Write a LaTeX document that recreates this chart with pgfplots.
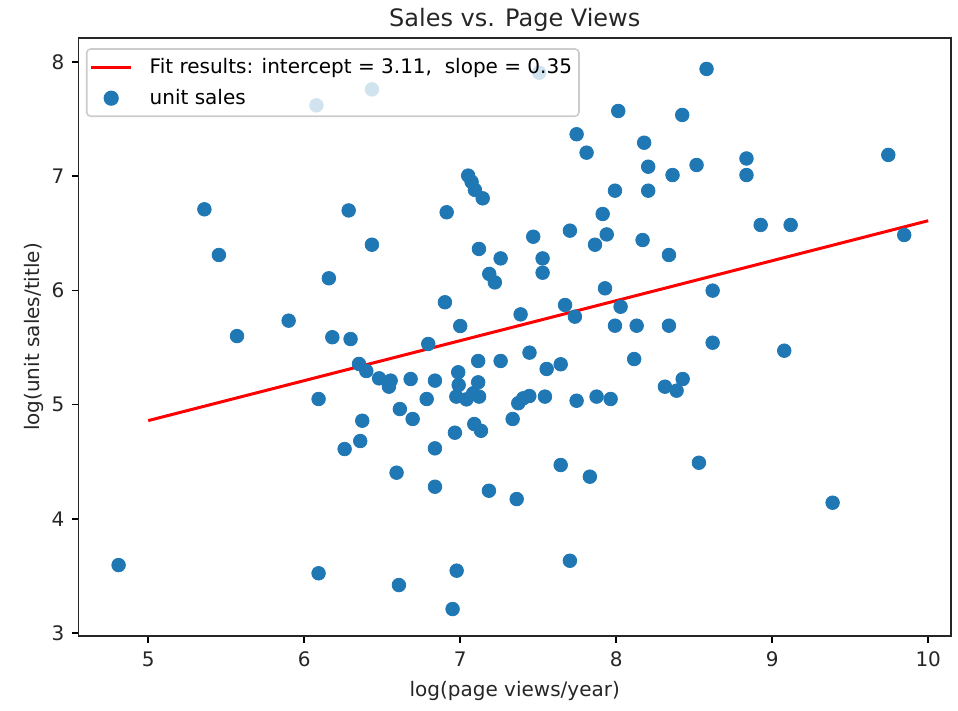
\documentclass[border=0pt]{standalone}
\usepackage{fontspec}
\setmainfont{DejaVu Sans}
\usepackage{pgfplots}
\pgfplotsset{compat=1.18}
\definecolor{tabblue}{HTML}{1F77B4}

\pgfplotsset{
  shortline legend/.style={legend image code/.code={\draw[##1] (0bp,0bp) -- (20bp,0bp); \path (26.5bp,0bp);}},
  shortmark legend/.style={legend image code/.code={\draw[mark repeat=2,mark phase=2,##1,fill opacity=1,draw opacity=1] plot coordinates {(0bp,0bp)(10bp,0bp)(20bp,0bp)}; \path (26.5bp,0bp);}},
}

\begin{document}
\begin{tikzpicture}
\begin{axis}[
  scale only axis,
  width=436.25bp, height=299bp,
  xmin=4.553, xmax=10.146,
  ymin=2.974, ymax=8.21,
  xtick={5,6,7,8,9,10},
  ytick={3,4,5,6,7,8},
  xtick pos=bottom, ytick pos=left,
  tick align=outside,
  major tick length=3.5bp,
  tick style={black, line width=0.8bp},
  axis line style={line width=0.8bp, black!85},
  /pgf/number format/assume math mode=true,
  tick label style={font=\fontsize{10bp}{12bp}\selectfont, color=black!85},
  xticklabel style={yshift=-1bp},
  label style={font=\fontsize{10bp}{12bp}\selectfont, color=black!85},
  xlabel={log(page views/year)},
  ylabel={log(unit sales/title)},
  ylabel style={yshift=-3bp},
  title={Sales vs. Page Views},
  title style={font=\fontsize{12bp}{14bp}\selectfont, color=black!85, yshift=-6.5bp},
  legend cell align=left,
  legend style={
    at={(axis description cs:0.0085,0.983)}, anchor=north west,
    draw=black!20, fill=white, fill opacity=0.8, text opacity=1,
    rounded corners=2bp, line width=0.8bp,
    font=\fontsize{10bp}{12bp}\selectfont,
    row sep=2.5bp, inner xsep=1.5bp, inner ysep=2.5bp,
  },
]
% legend entry for the fitted line, which is drawn on top of the points below
\addlegendimage{red, line width=1.5bp, shortline legend}
\addlegendentry{Fit results: intercept = 3.11,~ slope = 0.35}

\addplot[only marks, mark=*, mark size=3.4bp, color=tabblue, fill=tabblue, shortmark legend]
  table {
x y
4.810 3.595
5.360 6.710
5.453 6.310
5.569 5.600
5.900 5.735
6.078 7.620
6.092 5.049
6.092 3.523
6.158 6.106
6.180 5.590
6.259 4.611
6.285 6.700
6.297 5.574
6.351 5.356
6.359 4.681
6.372 4.859
6.398 5.294
6.434 7.760
6.434 6.400
6.480 5.230
6.543 5.157
6.554 5.210
6.592 4.404
6.607 3.420
6.613 4.961
6.682 5.224
6.695 4.874
6.785 5.049
6.795 5.531
6.838 5.210
6.838 4.617
6.838 4.281
6.902 5.896
6.913 6.684
6.951 3.210
6.966 4.754
6.977 3.546
6.987 5.283
6.990 5.172
6.975 5.070
7.000 5.688
7.040 5.046
7.051 7.005
7.073 6.950
7.083 5.099
7.090 4.830
7.094 6.880
7.115 5.382
7.115 5.195
7.121 5.070
7.120 6.363
7.133 4.771
7.144 6.806
7.184 4.246
7.186 6.144
7.222 6.070
7.259 6.280
7.259 5.382
7.336 4.874
7.362 4.173
7.372 5.012
7.387 5.790
7.404 5.055
7.443 5.075
7.444 5.455
7.468 6.470
7.506 7.906
7.528 6.280
7.528 6.155
7.543 5.070
7.554 5.312
7.644 5.353
7.644 4.471
7.672 5.872
7.703 6.523
7.703 3.633
7.735 5.770
7.746 7.367
7.746 5.034
7.810 7.206
7.831 4.369
7.864 6.400
7.874 5.070
7.913 6.669
7.928 6.018
7.939 6.490
7.964 5.049
7.992 6.873
7.992 5.691
8.013 7.571
8.028 5.857
8.115 5.399
8.131 5.691
8.169 6.441
8.179 7.293
8.205 7.083
8.205 6.873
8.312 5.157
8.338 5.691
8.338 6.310
8.361 7.010
8.387 5.122
8.423 7.536
8.426 5.224
8.515 7.098
8.530 4.491
8.579 7.939
8.618 5.998
8.618 5.542
8.835 7.155
8.835 7.010
8.926 6.573
9.077 5.472
9.118 6.573
9.387 4.141
9.744 7.186
9.846 6.485
};
\addlegendentry{unit sales}

% fitted line: y = 3.11 + 0.35 x, from x = 5 to x = 10
\addplot[red, line width=1.5bp, forget plot] coordinates {(5,4.86) (10,6.61)};
\end{axis}
\pgfresetboundingbox
\path[use as bounding box]
  ([xshift=-39.25bp,yshift=-37.5bp]current axis.south west)
  rectangle ([xshift=3.5bp,yshift=19bp]current axis.north east);
\end{tikzpicture}
\end{document}
